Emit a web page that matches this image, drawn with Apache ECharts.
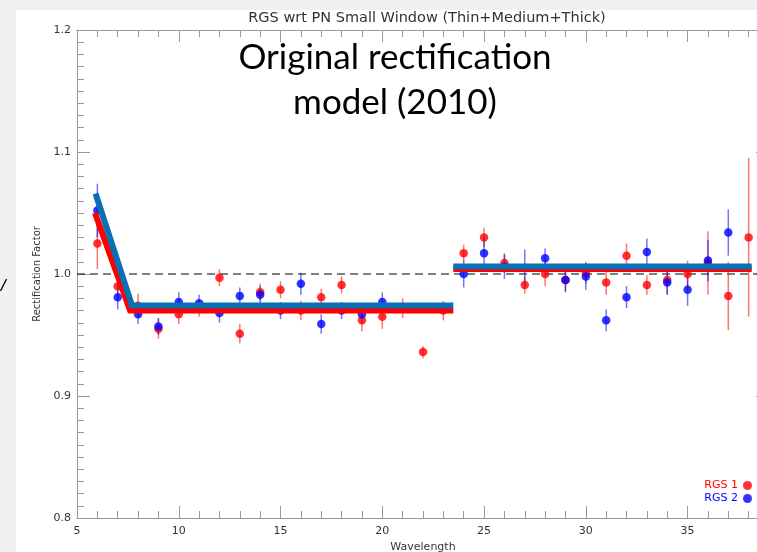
<!DOCTYPE html>
<html><head><meta charset="utf-8">
<script src="https://cdn.jsdelivr.net/npm/echarts@6/dist/echarts.min.js"></script>
<style>html,body{margin:0;padding:0;background:#fff;overflow:hidden}#c{width:757px;height:552px}</style>
</head><body><div id="c"></div><script>
// ---- data ----
const wavelengths = [6,7,8,9,10,11,12,13,14,15,16,17,18,19,20,21,22,23,24,25,26,27,28,29,30,31,32,33,34,35,36,37,38];
const rgs1Values = [1.025,0.990,0.974,0.955,0.967,0.972,0.997,0.951,0.985,0.987,0.970,0.981,0.991,0.962,0.965,0.972,0.936,0.970,1.017,1.030,1.009,0.991,1.000,0.995,1.001,0.993,1.015,0.991,0.995,1.000,1.009,0.982,1.030];
const rgs1Errors = [0.021,0.010,0.010,0.008,0.008,0.007,0.007,0.008,0.007,0.007,0.008,0.007,0.007,0.009,0.010,0.008,0.005,0.008,0.007,0.008,0.008,0.007,0.010,0.009,0.009,0.010,0.010,0.008,0.012,0.011,0.026,0.028,0.065];
const rgs2Values = [1.052,0.981,0.967,0.957,0.977,0.976,0.968,0.982,0.983,0.970,0.992,0.959,0.970,0.967,0.977,null,null,null,1.000,1.017,1.006,1.005,1.013,0.995,0.998,0.962,0.981,1.018,0.993,0.987,1.011,1.034,null];
const rgs2Errors = [0.022,0.010,0.008,0.007,0.008,0.007,0.008,0.007,0.007,0.007,0.009,0.008,0.007,0.008,0.008,null,null,null,0.011,0.014,0.010,0.015,0.008,0.010,0.011,0.009,0.009,0.011,0.010,0.013,0.017,0.019,null];
const rgs1ModelLow = [[5.885,1.050],[7.61,0.970],[23.49,0.970]];
const rgs1ModelHigh = [[23.49,1.004],[38.15,1.004]];
const rgs2ModelLow = [[5.91,1.066],[7.70,0.9742],[23.49,0.9742]];
const rgs2ModelHigh = [[23.49,1.0062],[38.15,1.0062]];
const unityLine = [[5,1.0],[39,1.0]];
const yTickLabels = ['0.8','0.9','1.0','1.1','1.2'];
const seriesNames = ['RGS 1','RGS 2'];

function pts(vals){ const out=[]; wavelengths.forEach((w,i)=>{ if(vals[i]!=null) out.push([w,vals[i]]); }); return out; }
function errs(vals,e){ const out=[]; wavelengths.forEach((w,i)=>{ if(vals[i]!=null) out.push([w,vals[i]-e[i],vals[i]+e[i]]); }); return out; }
function errRender(color){
  return function(params, api){
    const x=api.value(0), lo=api.value(1), hi=api.value(2);
    const p1=api.coord([x,lo]), p2=api.coord([x,hi]);
    return {type:'line', shape:{x1:p1[0],y1:p1[1],x2:p2[0],y2:p2[1]}, style:{stroke:color,lineWidth:1.5}};
  };
}
const F='DejaVu Sans';
const axisCol='#9a9a9a';
const chart = echarts.init(document.getElementById('c'), null, {renderer:'canvas'});
const xBase = {type:'value', min:5, max:39, interval:5,
  axisLine:{show:true,onZero:false,lineStyle:{color:axisCol,width:1}},
  axisTick:{show:true,inside:true,length:12,lineStyle:{color:axisCol}},
  minorTick:{show:true,splitNumber:5,length:7,lineStyle:{color:axisCol}},
  splitLine:{show:false}};
const yBase = {type:'value', min:0.8, max:1.2, interval:0.1,
  axisLine:{show:true,onZero:false,lineStyle:{color:axisCol,width:1}},
  axisTick:{show:true,inside:true,length:13,lineStyle:{color:axisCol}},
  minorTick:{show:true,splitNumber:10,length:7,lineStyle:{color:axisCol}},
  splitLine:{show:false}};
chart.setOption({
  animation:false,
  backgroundColor:'#ffffff',
  title:{text:'RGS wrt PN Small Window (Thin+Medium+Thick)', left:422, top:6, textAlign:'center',
    textStyle:{fontFamily:F,fontSize:14.5,fontWeight:'normal',color:'#333'}},
  legend:{orient:'vertical', right:0, top:475, align:'right', itemWidth:9, itemHeight:9, itemGap:2,
    textStyle:{fontFamily:F,fontSize:11},
    data:[{name:seriesNames[0],icon:'circle',textStyle:{color:'#ff0000'}},{name:seriesNames[1],icon:'circle',textStyle:{color:'#0000ff'}}]},
  grid:{left:77, top:30, width:692, height:488, containLabel:false, outerBoundsMode:'none'},
  xAxis:[
    Object.assign({}, xBase, {position:'bottom', name:'Wavelength', nameLocation:'middle', nameGap:21,
      nameTextStyle:{fontFamily:F,fontSize:11,color:'#333'},
      axisLabel:{show:true,fontFamily:F,fontSize:11,color:'#333',margin:8,showMaxLabel:false}}),
    Object.assign({}, xBase, {position:'top', axisLabel:{show:false}})
  ],
  yAxis:[
    Object.assign({}, yBase, {position:'left', name:'Rectification Factor', nameLocation:'middle', nameGap:31,
      nameTextStyle:{fontFamily:F,fontSize:10,color:'#333'},
      axisLabel:{show:true,fontFamily:F,fontSize:11,color:'#333',margin:6,formatter:(v)=>{const i=Math.round((v-0.8)/0.1);return yTickLabels[i]||'';}}}),
    Object.assign({}, yBase, {position:'right', axisLabel:{show:false}})
  ],
  graphic:[
    {type:'rect', left:0, top:0, shape:{width:16,height:552}, style:{fill:'#f0f0f0'}, z:-1},
    {type:'rect', left:0, top:0, shape:{width:757,height:10}, style:{fill:'#f0f0f0'}, z:-1},
    {type:'text', left:0, top:277, style:{text:'/', font:'italic bold 16px Lato', fill:'#000'}},
    {type:'text', x:395, y:58, style:{text:'Original rectification', font:'35px Lato', fill:'#000', textAlign:'center', textVerticalAlign:'middle'}, z:100},
    {type:'text', x:395, y:103, style:{text:'model (2010)', font:'35px Lato', fill:'#000', textAlign:'center', textVerticalAlign:'middle'}, z:100}
  ],
  series:[
    {type:'line', name:'unity', data:unityLine, symbol:'none', silent:true, z:1,
      lineStyle:{color:'#000',width:1.2,type:[8,5]}},
    {type:'custom', name:'rgs1err', data:errs(rgs1Values,rgs1Errors), renderItem:errRender('rgba(255,0,0,0.55)'), z:2, silent:true},
    {type:'custom', name:'rgs2err', data:errs(rgs2Values,rgs2Errors), renderItem:errRender('rgba(0,0,255,0.55)'), z:2, silent:true},
    {type:'scatter', name:seriesNames[0], data:pts(rgs1Values), symbol:'circle', symbolSize:8.5, itemStyle:{color:'#ff0000'}, z:3},
    {type:'scatter', name:seriesNames[1], data:pts(rgs2Values), symbol:'circle', symbolSize:8.5, itemStyle:{color:'#0000ff'}, z:4},
    {type:'line', name:'m1a', data:rgs1ModelLow, symbol:'none', z:5, lineStyle:{color:'#ff0000',width:6,cap:'butt',join:'miter'}},
    {type:'line', name:'m1b', data:rgs1ModelHigh, symbol:'none', z:5, lineStyle:{color:'#ff0000',width:6,cap:'butt'}},
    {type:'line', name:'m2a', data:rgs2ModelLow, symbol:'none', z:6, lineStyle:{color:'#0a6fb5',width:6,cap:'butt',join:'miter'}},
    {type:'line', name:'m2b', data:rgs2ModelHigh, symbol:'none', z:6, lineStyle:{color:'#0a6fb5',width:6,cap:'butt'}}
  ]
});
</script></body></html>
